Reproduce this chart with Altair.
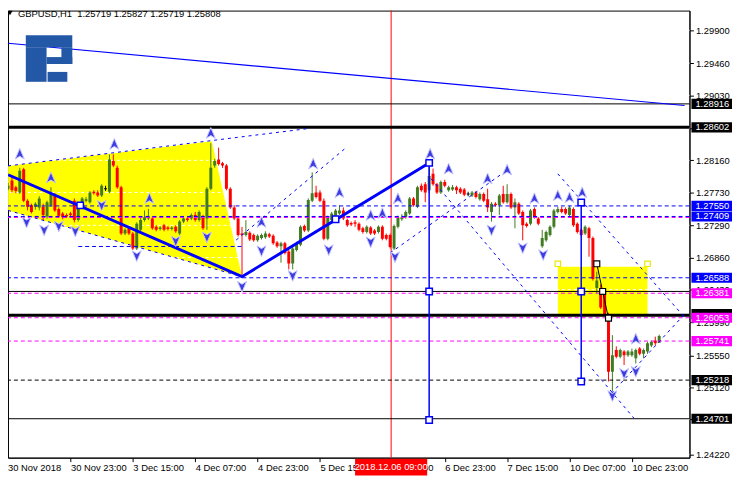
import altair as alt
import pandas as pd
import numpy as np

FONT = "Liberation Sans"

# ---------------- candles (hourly, bar 0 = 30 Nov 2018 07:00) ----------------
opens = [1.2778,1.2789,1.2780,1.2773,1.2804,1.2762,1.2756,1.2754,1.2753,1.2754,
         1.2741,1.2756,1.2769,1.2751,1.2745,1.2743,1.2745,1.2762,1.2736,1.2754,
         1.2762,1.2760,1.2774,1.2773,1.2769,1.2778,1.2774,1.2815,1.2806,1.2780,
         1.2718,1.2725,1.2718,1.2698,1.2723,1.2736,1.2738,1.2738,1.2727,1.2724,
         1.2729,1.2726,1.2724,1.2727,1.2718,1.2734,1.2738,1.2738,1.2743,1.2736,
         1.2740,1.2738,1.2778,1.2809,1.2817,1.2812,1.2809,1.2778,1.2753,1.2738,
         1.2718,1.2716,1.2719,1.2716,1.2709,1.2712,1.2713,1.2717,1.2715,1.2706,
         1.2701,1.2705,1.2694,1.2678,1.2696,1.2703,1.2728,1.2722,1.2762,1.2773,
         1.2773,1.2762,1.2711,1.2736,1.2742,1.2745,1.2749,1.2736,1.2732,1.2733,
         1.2731,1.2725,1.2720,1.2726,1.2722,1.2720,1.2727,1.2716,1.2716,1.2698,
         1.2727,1.2737,1.2740,1.2745,1.2765,1.2754,1.2782,1.2784,1.2776,1.2798,
         1.2784,1.2773,1.2787,1.2776,1.2777,1.2780,1.2778,1.2777,1.2771,1.2769,
         1.2773,1.2764,1.2771,1.2764,1.2747,1.2758,1.2756,1.2771,1.2760,1.2771,
         1.2753,1.2758,1.2747,1.2731,1.2731,1.2751,1.2738,1.2701,1.2709,1.2716,
         1.2727,1.2747,1.2751,1.2751,1.2743,1.2751,1.2731,1.2723,1.2718,1.2725,
         1.2712,1.2645,1.2639,1.2637,1.2610,1.2533,1.2562,1.2553,1.2560,1.2555,
         1.2555,1.2551,1.2564,1.2557,1.2560,1.2568,1.2575,1.25719]
highs = [1.2786,1.2796,1.2782,1.2806,1.2806,1.2764,1.2758,1.2760,1.2768,1.2758,
         1.2762,1.2780,1.2772,1.2753,1.2747,1.2745,1.2747,1.2765,1.2758,1.2767,
         1.2767,1.2775,1.2776,1.2776,1.2784,1.2782,1.2824,1.2824,1.2809,1.2782,
         1.2725,1.2727,1.2720,1.2733,1.2740,1.2749,1.2751,1.2741,1.2729,1.2728,
         1.2731,1.2728,1.2728,1.2729,1.2736,1.2740,1.2740,1.2745,1.2747,1.2749,
         1.2743,1.2780,1.2839,1.2818,1.2833,1.2814,1.2811,1.2780,1.2756,1.2740,
         1.2727,1.2736,1.2721,1.2718,1.2717,1.2718,1.2721,1.2719,1.2717,1.2708,
         1.2707,1.2707,1.2696,1.2700,1.2707,1.2729,1.2730,1.2765,1.2800,1.2782,
         1.2776,1.2765,1.2742,1.2747,1.2751,1.2756,1.2753,1.2738,1.2734,1.2736,
         1.2733,1.2727,1.2729,1.2728,1.2724,1.2729,1.2729,1.2718,1.2718,1.2730,
         1.2742,1.2744,1.2749,1.2767,1.2767,1.2782,1.2785,1.2787,1.2812,1.2805,
         1.2786,1.2789,1.2790,1.2782,1.2783,1.2782,1.2780,1.2779,1.2774,1.2775,
         1.2775,1.2773,1.2773,1.2778,1.2760,1.2760,1.2771,1.2782,1.2784,1.2773,
         1.2765,1.2760,1.2749,1.2733,1.2751,1.2753,1.2740,1.2723,1.2722,1.2729,
         1.2751,1.2754,1.2754,1.2753,1.2755,1.2753,1.2733,1.2725,1.2729,1.2727,
         1.2714,1.2667,1.2650,1.2643,1.2612,1.2582,1.2567,1.2564,1.2562,1.2562,
         1.2564,1.2564,1.2566,1.2564,1.2573,1.2575,1.2580,1.25827]
lows = [1.2776,1.2773,1.2772,1.2771,1.2760,1.2749,1.2745,1.2750,1.2749,1.2736,
        1.2738,1.2754,1.2747,1.2740,1.2737,1.2739,1.2741,1.2733,1.2734,1.2752,
        1.2760,1.2758,1.2770,1.2767,1.2767,1.2775,1.2772,1.2807,1.2778,1.2716,
        1.2716,1.2716,1.2696,1.2696,1.2721,1.2734,1.2736,1.2723,1.2721,1.2722,
        1.2721,1.2722,1.2722,1.2719,1.2716,1.2732,1.2734,1.2736,1.2734,1.2734,
        1.2723,1.2723,1.2776,1.2806,1.2809,1.2806,1.2776,1.2751,1.2736,1.2714,
        1.2660,1.2714,1.2708,1.2707,1.2707,1.2710,1.2711,1.2712,1.2703,1.2699,
        1.2679,1.2690,1.2670,1.2670,1.2694,1.2701,1.2720,1.2720,1.2760,1.2765,
        1.2760,1.2709,1.2709,1.2734,1.2740,1.2743,1.2736,1.2727,1.2728,1.2727,
        1.2721,1.2718,1.2718,1.2716,1.2716,1.2718,1.2709,1.2709,1.2698,1.2696,
        1.2725,1.2735,1.2738,1.2743,1.2754,1.2752,1.2774,1.2760,1.2772,1.2782,
        1.2771,1.2771,1.2780,1.2774,1.2775,1.2771,1.2771,1.2768,1.2768,1.2767,
        1.2765,1.2762,1.2760,1.2747,1.2734,1.2754,1.2743,1.2758,1.2758,1.2751,
        1.2725,1.2743,1.2709,1.2726,1.2729,1.2738,1.2729,1.2699,1.2707,1.2714,
        1.2725,1.2745,1.2745,1.2743,1.2740,1.2727,1.2718,1.2714,1.2716,1.2687,
        1.2655,1.2638,1.2617,1.2608,1.2520,1.2507,1.2551,1.2551,1.2542,1.2553,
        1.2553,1.2544,1.2555,1.2551,1.2557,1.2566,1.2568,1.25719]
closes = [1.2782,1.2776,1.2775,1.2802,1.2762,1.2754,1.2747,1.2758,1.2765,1.2743,
          1.2760,1.2771,1.2749,1.2742,1.2740,1.2741,1.2743,1.2736,1.2756,1.2765,
          1.2764,1.2773,1.2772,1.2769,1.2782,1.2778,1.2817,1.2809,1.2780,1.2718,
          1.2723,1.2718,1.2698,1.2731,1.2736,1.2740,1.2741,1.2725,1.2723,1.2726,
          1.2723,1.2724,1.2726,1.2721,1.2734,1.2738,1.2736,1.2743,1.2736,1.2747,
          1.2725,1.2778,1.2806,1.2815,1.2811,1.2809,1.2778,1.2753,1.2738,1.2716,
          1.2716,1.2720,1.2710,1.2709,1.2715,1.2716,1.2718,1.2714,1.2705,1.2701,
          1.2705,1.2692,1.2678,1.2698,1.2705,1.2727,1.2722,1.2763,1.2772,1.2767,
          1.2762,1.2711,1.2740,1.2745,1.2749,1.2749,1.2738,1.2729,1.2730,1.2731,
          1.2723,1.2720,1.2727,1.2718,1.2718,1.2727,1.2711,1.2711,1.2700,1.2728,
          1.2740,1.2740,1.2747,1.2765,1.2756,1.2780,1.2776,1.2773,1.2795,1.2784,
          1.2773,1.2787,1.2782,1.2780,1.2780,1.2776,1.2773,1.2770,1.2771,1.2773,
          1.2767,1.2771,1.2762,1.2753,1.2758,1.2756,1.2769,1.2760,1.2771,1.2753,
          1.2760,1.2745,1.2729,1.2728,1.2749,1.2740,1.2731,1.2712,1.2720,1.2727,
          1.2749,1.2751,1.2747,1.2745,1.2753,1.2729,1.2720,1.2716,1.2727,1.2712,
          1.2657,1.2655,1.2619,1.2610,1.2533,1.2555,1.2553,1.2562,1.2555,1.2560,
          1.2560,1.2562,1.2557,1.2562,1.2571,1.2573,1.2571,1.25808]

# ---------------- axis labels ----------------
price_ticks = [1.29900, 1.29460, 1.29030, 1.28590, 1.28160, 1.27730, 1.27290,
               1.26860, 1.26430, 1.25990, 1.25550, 1.25120, 1.24690, 1.24220]
time_tick_bars = [16, 32, 48, 64, 80, 96, 112, 128, 144, 160]
time_tick_labels = ["30 Nov 23:00", "3 Dec 15:00", "4 Dec 07:00", "4 Dec 23:00",
                    "5 Dec 15:00", "6 Dec 07:00", "6 Dec 23:00", "7 Dec 15:00",
                    "10 Dec 07:00", "10 Dec 23:00"]
first_time_label = "30 Nov 2018"
header_text = "GBPUSD,H1\u00a0\u00a01.25719 1.25827 1.25719 1.25808"
crosshair_bar = 98.25
crosshair_text = "2018.12.06 09:00"

# ---------------- drawn objects ----------------
hl_black_thin = [1.28916, 1.26405, 1.24701]
hl_black_thick = [1.28602, 1.26087]
hl_blue_dash = [1.27550, 1.27409, 1.26588]
hl_magenta_dash = [1.27395, 1.26381, 1.26053, 1.25741]
hl_black_dash = [1.25218]
seg_blue_dash = [(18.0, 1.27007, 60.0, 1.27007)]

tri_top = [(0.0, 1.28086), (52.25, 1.28417), (60.0, 1.26603)]
tri_bottom_start = (0.0, 1.27490)
box = (141.0, 1.26074, 164.0, 1.26736)

diag_dashed = [(0.0, 1.28086, 77.5, 1.28589),
               (0.0, 1.27490, 60.0, 1.26603),
               (58.5, 1.27093, 86.25, 1.28311),
               (98.0, 1.26921, 128.5, 1.28047),
               (108.5, 1.27914, 160.5, 1.24710),
               (141.0, 1.27980, 173.5, 1.26060),
               (154.75, 1.25041, 173.5, 1.26100)]
top_trend = (0.0, 1.29728, 173.5, 1.28894)

zigzag_bars = [0.0, 60.0, 108.0]
zigzag_prices = [1.27967, 1.26603, 1.28126]
vert_lines = [(108.0, 1.24684, 1.28126), (147.0, 1.25200, 1.27596)]
blue_squares_bar = [18.5, 84.0, 108.0, 108.0, 108.0, 147.0, 147.0, 147.0]
blue_squares_price = [1.27557, 1.27371, 1.28126, 1.26405, 1.24684, 1.27596, 1.26405, 1.25200]
black_zig_bars = [151.0, 152.5, 154.0]
black_zig_prices = [1.26775, 1.26405, 1.26047]
yellow_squares_bar = [141.0, 164.0]
yellow_squares_price = [1.26775, 1.26775]

up_bars = [3, 11, 27.25, 36.25, 52, 65, 78.25, 85, 93, 96, 100, 108.25, 113, 123, 128,
           135, 141, 144, 147.25, 161]
up_prices = [1.28245, 1.27927, 1.28377, 1.27649, 1.28523, 1.27331, 1.28113, 1.27729,
             1.27424, 1.27451, 1.27649, 1.28245, 1.28046, 1.27914, 1.28033, 1.27649,
             1.27689, 1.27662, 1.27729, 1.25769]
down_bars = [4.75, 9.25, 13, 17.25, 24, 33, 43, 51, 60, 65, 73, 82.25, 93, 99.25, 124,
             132, 137.25, 155, 158, 161]
down_prices = [1.27331, 1.27226, 1.27279, 1.27212, 1.27557, 1.26881, 1.27080, 1.27133,
               1.26471, 1.26948, 1.26617, 1.26961, 1.27067, 1.26868, 1.27226, 1.26987,
               1.26895, 1.25008, 1.25306, 1.25332]

price_tags = [1.28916, 1.28602, 1.27550, 1.27409, 1.26588, 1.26381, 1.26101, 1.26053,
              1.25741, 1.25218, 1.24701]
price_tag_colors = ["#000000", "#000000", "#0000ff", "#0000ff", "#0000ff", "#ff00ff",
                    "#000000", "#ff00ff", "#ff00ff", "#000000", "#000000"]
price_tag_shown = [True, True, True, True, True, True, False, True, True, True, True]

# ---------------- scales / axes ----------------
W, H = 689, 452
XS = alt.Scale(domain=[1.25, 173.5], nice=False, zero=False)
YS = alt.Scale(domain=[1.24180, 1.30165], nice=False, zero=False)
BLUE = "#0000ff"
MAG = "#ff00ff"
GREEN = "#417b22"
RED = "#ff0000"

X_AXIS = alt.Axis(values=time_tick_bars, orient="bottom", title=None,
                  labelExpr="[" + ",".join("'" + s + "'" for s in time_tick_labels)
                  + "][round(datum.value/16)-1]",
                  labelAlign="left", labelBaseline="top", labelPadding=1,
                  tickSize=4, tickColor="black", domainColor="black",
                  labelColor="black", labelFont=FONT, labelFontSize=9.5,
                  labelOverlap=False, labelFlush=False, grid=False)
Y_AXIS = alt.Axis(values=price_ticks, orient="right", title=None, format=".5f",
                  tickSize=4, tickColor="black", domainColor="black",
                  labelColor="black", labelFont=FONT, labelFontSize=9.5,
                  labelPadding=2, labelOverlap=False, labelFlush=False, grid=False)


def X(f="bar"):
    return alt.X(f + ":Q", scale=XS, axis=X_AXIS)


def Y(f="price"):
    return alt.Y(f + ":Q", scale=YS, axis=Y_AXIS)


n = len(opens)
cd = pd.DataFrame({"bar": np.arange(n), "open": opens, "high": highs,
                   "low": lows, "close": closes})
cd["dir"] = np.where(cd.close > cd.open, "up", np.where(cd.close < cd.open, "down", "doji"))
cd["btop"] = cd[["open", "close"]].max(axis=1)
cd["bbot"] = cd[["open", "close"]].min(axis=1)
eq = cd.btop - cd.bbot < 0.00012
cd.loc[eq, "btop"] = cd.loc[eq, "btop"] + 0.00006
cd.loc[eq, "bbot"] = cd.loc[eq, "bbot"] - 0.00006
cscale = alt.Scale(domain=["up", "down", "doji"], range=[GREEN, RED, "#000000"])

# yellow triangle as area
(x0, t0), (x1, t1), (x2, t2) = tri_top
bx0, bp0 = tri_bottom_start
b1 = bp0 + (t2 - bp0) * (x1 - bx0) / (x2 - bx0)
tri_df = pd.DataFrame({"bar": [x0, x1, x2], "top": [t0, t1, t2], "bot": [bp0, b1, t2]})
tri = alt.Chart(tri_df).mark_area(color="#ffff00", opacity=1, clip=True).encode(
    x=X(), y=Y("top"), y2="bot:Q")

box_df = pd.DataFrame({"x1": [box[0]], "p1": [box[1]], "x2": [box[2]], "p2": [box[3]]})
ybox = alt.Chart(box_df).mark_rect(color="#ffff00", clip=True).encode(
    x=X("x1"), x2="x2:Q", y=Y("p1"), y2="p2:Q")

grid = alt.Chart(pd.DataFrame({"price": price_ticks})).mark_rule(
    color="white", strokeDash=[3, 3], strokeWidth=1).encode(y=Y())

wick = alt.Chart(cd).mark_rule(strokeWidth=1, clip=True).encode(
    x=X(), y=Y("low"), y2="high:Q",
    color=alt.Color("dir:N", scale=cscale, legend=None))
body = alt.Chart(cd).mark_bar(size=3, clip=True).encode(
    x=X(), y=Y("bbot"), y2="btop:Q",
    color=alt.Color("dir:N", scale=cscale, legend=None))

cross = alt.Chart(pd.DataFrame({"bar": [crosshair_bar]})).mark_rule(
    color=RED, strokeWidth=1).encode(x=X())


def hlines(vals, color, width=1, dash=None):
    kw = {"color": color, "strokeWidth": width}
    if dash:
        kw["strokeDash"] = dash
    return alt.Chart(pd.DataFrame({"price": vals})).mark_rule(**kw).encode(y=Y())


h1 = hlines(hl_black_thin, "#000000", 1)
h2 = hlines(hl_black_thick, "#000000", 3)
h3 = hlines(hl_blue_dash, BLUE, 1, [4, 3])
h4 = hlines(hl_magenta_dash, MAG, 1, [4, 3])
h5 = hlines(hl_black_dash, "#000000", 1, [4, 3])

seg_df = pd.DataFrame(seg_blue_dash, columns=["x1", "p1", "x2", "p2"])
seg = alt.Chart(seg_df).mark_rule(color=BLUE, strokeDash=[4, 3], clip=True).encode(
    x=X("x1"), x2="x2:Q", y=Y("p1"), y2="p2:Q")

dd_df = pd.DataFrame(diag_dashed, columns=["x1", "p1", "x2", "p2"])
diag = alt.Chart(dd_df).mark_rule(color=BLUE, strokeDash=[3, 4], clip=True).encode(
    x=X("x1"), x2="x2:Q", y=Y("p1"), y2="p2:Q")

tt_df = pd.DataFrame([top_trend], columns=["x1", "p1", "x2", "p2"])
trend = alt.Chart(tt_df).mark_rule(color=BLUE, strokeWidth=1.2, clip=True).encode(
    x=X("x1"), x2="x2:Q", y=Y("p1"), y2="p2:Q")

zz = alt.Chart(pd.DataFrame({"bar": zigzag_bars, "price": zigzag_prices,
                             "o": range(len(zigzag_bars))})).mark_line(
    color=BLUE, strokeWidth=3, clip=True).encode(x=X(), y=Y(), order="o:Q")

vl_df = pd.DataFrame(vert_lines, columns=["bar", "p1", "p2"])
vl = alt.Chart(vl_df).mark_rule(color=BLUE, strokeWidth=1.5).encode(
    x=X(), y=Y("p1"), y2="p2:Q")

bz = alt.Chart(pd.DataFrame({"bar": black_zig_bars, "price": black_zig_prices,
                             "o": [0, 1, 2]})).mark_line(
    color="black", strokeWidth=1).encode(x=X(), y=Y(), order="o:Q")

sq_blue = alt.Chart(pd.DataFrame({"bar": blue_squares_bar, "price": blue_squares_price})
                    ).mark_point(shape="square", size=42, filled=True, fill="white",
                                 stroke=BLUE, strokeWidth=1.5, opacity=1).encode(x=X(), y=Y())
sq_black = alt.Chart(pd.DataFrame({"bar": black_zig_bars, "price": black_zig_prices})
                     ).mark_point(shape="square", size=36, filled=True, fill="white",
                                  stroke="black", strokeWidth=1.2, opacity=1).encode(x=X(), y=Y())
sq_yel = alt.Chart(pd.DataFrame({"bar": yellow_squares_bar, "price": yellow_squares_price})
                   ).mark_point(shape="square", size=30, filled=True, fill="white",
                                stroke="#e8e800", strokeWidth=1.2, opacity=1).encode(x=X(), y=Y())

UP = "M0,-1L0.8,0.9L0,0.4L-0.8,0.9Z"
DN = "M0,1L0.8,-0.9L0,-0.4L-0.8,-0.9Z"
ar_up = alt.Chart(pd.DataFrame({"bar": up_bars, "price": up_prices})).mark_point(
    shape=UP, size=130, filled=True, fill="#3c3ce0", stroke="#c4c4ff",
    strokeWidth=1, opacity=1).encode(x=X(), y=Y())
ar_dn = alt.Chart(pd.DataFrame({"bar": down_bars, "price": down_prices})).mark_point(
    shape=DN, size=130, filled=True, fill="#3c3ce0", stroke="#c4c4ff",
    strokeWidth=1, opacity=1).encode(x=X(), y=Y())

# logo (decoration): pieces of the "R" as fixed-position rectangles
logo_parts = [(18, 65, 25, 37), (18, 39, 37, 72), (54, 65, 37, 54),
              (39, 65, 47, 54), (40, 60, 62, 72)]
logo_layers = [
    alt.Chart(pd.DataFrame({"a": [1]})).mark_rect(color="#2358a6").encode(
        x=alt.value(a), x2=alt.value(b), y=alt.value(c), y2=alt.value(d))
    for a, b, c, d in logo_parts]

hdr = alt.Chart(pd.DataFrame({"t": [header_text]})).mark_text(
    align="left", baseline="middle", font=FONT, fontSize=9.5, color="black").encode(
    x=alt.value(10), y=alt.value(3), text="t:N")
hdr_tri = alt.Chart(pd.DataFrame({"a": [1]})).mark_point(
    shape="triangle-down", size=28, filled=True, color="black", opacity=1).encode(
    x=alt.value(2), y=alt.value(2.5))

first_lbl = alt.Chart(pd.DataFrame({"t": [first_time_label]})).mark_text(
    align="left", baseline="top", font=FONT, fontSize=9.5, color="black").encode(
    x=alt.value(0), y=alt.value(H + 5), text="t:N")

tag_df = pd.DataFrame({"price": price_tags, "col": price_tag_colors,
                       "shown": price_tag_shown})
tag_df["top"] = tag_df.price + 0.00068
tag_df["bot"] = tag_df.price - 0.00068
tag_df["lbl"] = tag_df.price.map(lambda v: f"{v:.5f}")
tag_box = alt.Chart(tag_df).mark_rect().encode(
    x=alt.value(W + 2), x2=alt.value(W + 43), y=Y("top"), y2="bot:Q",
    color=alt.Color("col:N", scale=None))
tag_txt = alt.Chart(tag_df[tag_df.shown]).mark_text(
    align="left", baseline="middle", font=FONT, fontSize=9.5, color="white").encode(
    x=alt.value(W + 6), y=Y(), text="lbl:N")

ch_df = pd.DataFrame({"bar": [crosshair_bar], "x1": [crosshair_bar - 9.25],
                      "x2": [crosshair_bar + 9.25], "t": [crosshair_text]})
ch_box = alt.Chart(ch_df).mark_rect(color=RED).encode(
    x=X("x1"), x2="x2:Q", y=alt.value(H + 1), y2=alt.value(H + 18))
ch_txt = alt.Chart(ch_df).mark_text(
    align="center", baseline="middle", font=FONT, fontSize=9.5, color="white").encode(
    x=X(), y=alt.value(H + 9.5), text="t:N")

chart = alt.layer(
    tri, ybox, grid, wick, body,
    cross, h1, h2, h3, h4, h5, seg, diag, trend,
    zz, vl, bz, sq_blue, sq_black, sq_yel, ar_up, ar_dn,
    *logo_layers, hdr, hdr_tri, first_lbl, tag_box, tag_txt, ch_box, ch_txt
).properties(
    width=W, height=H,
    padding={"left": 0, "top": 0, "right": 43, "bottom": 22},
    autosize=alt.AutoSizeParams(type="none"),
    background="white"
).configure_view(stroke="black", strokeWidth=1)

chart.save("out.html", embed_options={"renderer": "svg", "actions": False})
